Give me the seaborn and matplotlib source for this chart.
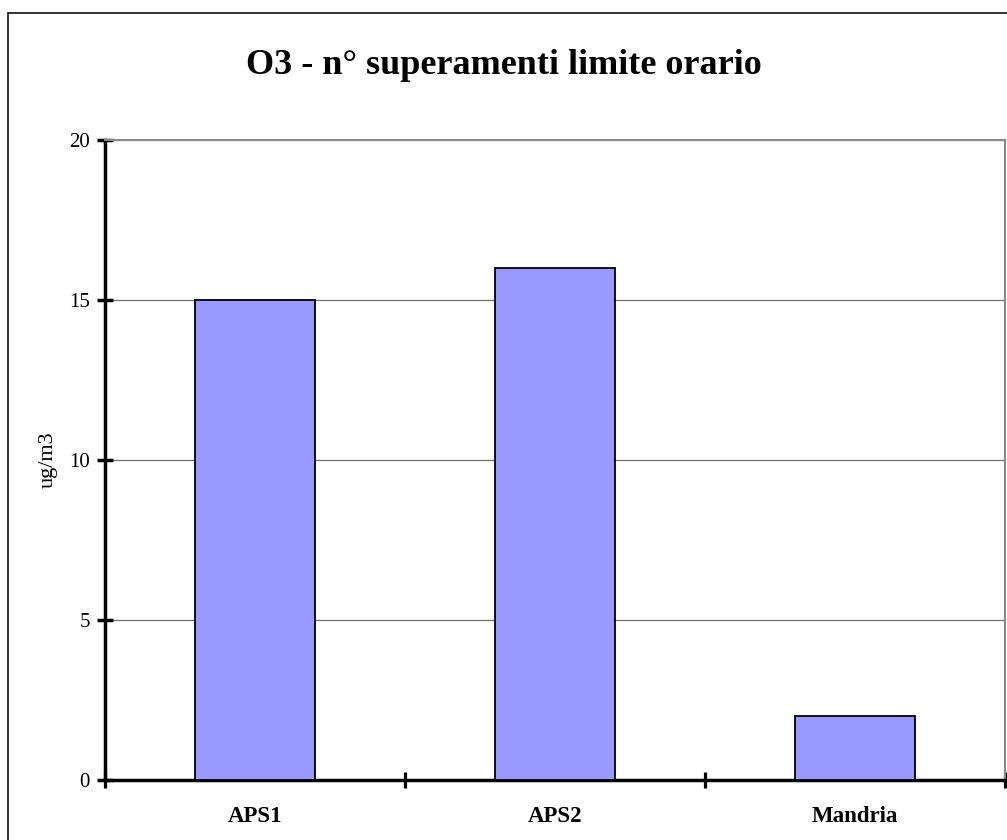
import matplotlib
matplotlib.use("Agg")
import matplotlib.pyplot as plt
from matplotlib.lines import Line2D
import seaborn as sns
import pandas as pd

stations = ["APS1", "APS2", "Mandria"]
exceedances = [15, 16, 2]
y_ticks = [0, 5, 10, 15, 20]
title = "O3 - n° superamenti limite orario"
y_label = "ug/m3"

sns.set_theme(style="white")
plt.rcParams['font.family'] = ['Liberation Serif', 'DejaVu Serif']
plt.rcParams['text.color'] = 'black'
plt.rcParams['xtick.color'] = 'black'
plt.rcParams['ytick.color'] = 'black'
plt.rcParams['axes.labelcolor'] = 'black'

df = pd.DataFrame({"station": stations, "value": exceedances})

fig = plt.figure(figsize=(10.07, 8.4), dpi=100)
ax = fig.add_axes([105/1007, 60/840, 900/1007, 640/840])

sns.barplot(data=df, x="station", y="value", color="#9999FF", saturation=1,
            edgecolor="black", linewidth=1.3, width=0.4, ax=ax, zorder=3)

ax.set_xlim(-0.5, 2.5)
ax.set_ylim(0, 20)
ax.set_yticks(y_ticks)
ax.set_yticklabels([str(t) for t in y_ticks], fontsize=15)
ax.yaxis.grid(True, color="#707070", linewidth=0.9, zorder=0)
ax.set_axisbelow(True)

ax.set_xticks(range(len(stations)))
ax.set_xticklabels(stations, fontsize=16.5, fontweight="bold")
ax.set_xticks([-0.5, 0.5, 1.5, 2.5], minor=True)
ax.tick_params(axis="x", which="major", bottom=True, length=0, pad=19)
ax.tick_params(axis="x", which="minor", bottom=True, direction="inout", length=12, width=2.3, color="black")
ax.tick_params(axis="y", which="major", left=True, direction="inout", length=12, width=2.5, color="black", pad=5)

for s in ["left", "bottom"]:
    ax.spines[s].set_color("black")
    ax.spines[s].set_linewidth(2.5)
for s in ["top", "right"]:
    ax.spines[s].set_color("#8a8a8a")
    ax.spines[s].set_linewidth(1.5)

ax.set_xlabel("")
ax.set_ylabel(y_label, fontsize=16, va="center")
ax.yaxis.set_label_coords(-0.063, 0.5)

fig.text(0.5, 1 - 66/840, title, ha="center", va="center",
         fontsize=26, fontweight="bold")

# outer chart border (left and top visible)
x0, y0 = 8/1007, 1 - 13/840
fig.add_artist(Line2D([x0, x0], [-0.02, y0], transform=fig.transFigure, color="#222222", lw=1.3))
fig.add_artist(Line2D([x0, 1.02], [y0, y0], transform=fig.transFigure, color="#222222", lw=1.3))

fig.savefig("out.png", dpi=100)
